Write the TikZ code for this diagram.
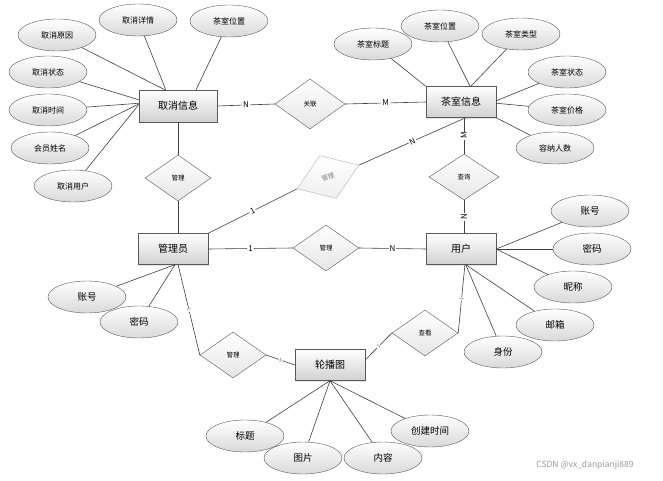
\documentclass[tikz,border=0pt]{standalone}
\usepackage{fontspec}
\newfontfamily\cjk{Noto Sans CJK SC}
\usetikzlibrary{shapes.geometric,shadows}
\tikzset{
	entity/.style={draw=black!65,rectangle,top color=white,bottom color=black!18,minimum width=70pt,minimum height=31pt,inner sep=0pt,font=\cjk\fontsize{10}{12}\selectfont,drop shadow={opacity=0.2,shadow xshift=1.2pt,shadow yshift=-1.2pt}},
	attr/.style={draw=black!65,ellipse,top color=white,bottom color=black!15,minimum width=78pt,minimum height=32pt,inner sep=0pt,font=\cjk\fontsize{8}{10}\selectfont},
	bigattr/.style={attr,font=\cjk\fontsize{9.5}{11}\selectfont},
	rel/.style={draw=black!65,diamond,top color=white,bottom color=black!10,minimum width=66pt,minimum height=46pt,inner sep=0pt,font=\cjk\fontsize{6.5}{8}\selectfont},
	conn/.style={draw=black!75,line width=0.6pt},
	card/.style={fill=white,inner sep=1pt,font=\cjk\fontsize{8}{9}\selectfont},
	tinycard/.style={fill=white,inner sep=0.5pt,text=black!60,font=\cjk\fontsize{5}{6}\selectfont}
}
\begin{document}
\begin{tikzpicture}[x=1pt,y=-1pt]
	\useasboundingbox[fill=white] (0,0) rectangle (663,481);
	%Entities
	\node[entity,minimum width=78pt,minimum height=32pt] (cancel) at (178,106) {取消信息};
	\node[entity] (room) at (461,102) {茶室信息};
	\node[entity] (admin) at (173,249) {管理员};
	\node[entity] (user) at (461,249) {用户};
	\node[entity] (banner) at (330,365) {轮播图};
	%Relations
	\node[rel,minimum width=70pt,minimum height=50pt] (relJoin) at (310,104) {关联};
	\node[rel] (relCancel) at (178,178) {管理};
	\node[rel] (relUser) at (326,248) {管理};
	\node[rel,minimum width=70pt] (relQuery) at (464,177) {查询};
	\node[rel,rotate=21,draw=black!30,top color=white,bottom color=black!6,text=black!50] (relRoom) at (328,177) {管理};
	\node[rel] (relBanner) at (233,355) {管理};
	\node[rel] (relView) at (425,333) {查看};
	%Links
	\draw[conn] (cancel.east) -- node[card]{N} (relJoin.west);
	\draw[conn] (relJoin.east) -- node[card]{M} (room.west);
	\draw[conn] (cancel.south) -- (relCancel.north);
	\draw[conn] (relCancel.south) -- (relCancel.south |- admin.north);
	\draw[conn] (admin.east) -- node[card]{1} (relUser.west);
	\draw[conn] (relUser.east) -- node[card]{N} (user.west);
	\draw[conn] (relQuery.north |- room.south) -- node[card,rotate=90]{M} (relQuery.north);
	\draw[conn] (relQuery.south) -- node[card,rotate=90]{N} (relQuery.south |- user.north);
	\draw[conn] (admin.north east) -- node[card,sloped]{1} (relRoom.west);
	\draw[conn] (relRoom.east) -- node[card,sloped]{N} (room.-73);
	\draw[conn] (admin.-72) -- node[tinycard,sloped]{1} (relBanner.west);
	\draw[conn] (relBanner.east) -- node[tinycard,sloped]{1} (banner.west);
	\draw[conn] (banner.8) -- node[tinycard,sloped]{1} (relView.west);
	\draw[conn] (relView.east) -- node[tinycard,sloped]{1} (user.-76);
	%Attributes of cancel
	\foreach \nm/\x/\y/\txt/\anc in {cReason/57/35/取消原因/129,cDetail/138/20/取消详情/127,cPlace/229/21/茶室位置/42,cState/48/72/取消状态/171,cTime/48/110/取消时间/176,cName/50/148/会员姓名/177,cUser/73/186/取消用户/178}
		{
			\node[attr] (\nm) at (\x,\y) {\txt};
			\draw[conn] (\nm) -- (cancel.\anc);
		}
	%Attributes of room
	\foreach \nm/\x/\y/\txt/\anc in {rTitle/373/44/茶室标题/north west,rPlace/440/26/茶室位置/60,rType/521/34/茶室类型/58,rState/567/72/茶室状态/2,rPrice/567/110/茶室价格/-2,rSeats/555/148/容纳人数/south east}
		{
			\node[attr] (\nm) at (\x,\y) {\txt};
			\draw[conn] (\nm) -- (room.\anc);
		}
	%Attributes of user
	\foreach \nm/\x/\y/\txt/\anc in {uAcc/590/211/账号/east,uPwd/592/249/密码/east,uNick/573/287/昵称/east,uMail/555/325/邮箱/-73,uRole/503/352/身份/-73}
		{
			\node[bigattr] (\nm) at (\x,\y) {\txt};
			\draw[conn] (\nm) -- (user.\anc);
		}
	%Attributes of admin
	\foreach \nm/\x/\y/\txt in {aAcc/87/297/账号,aPwd/139/322/密码}
		{
			\node[bigattr] (\nm) at (\x,\y) {\txt};
			\draw[conn] (\nm) -- (admin.-83);
		}
	%Attributes of banner
	\foreach \nm/\x/\y/\txt in {bTitle/245/436/标题,bPic/303/458/图片,bText/383/458/内容,bTime/430/431/创建时间}
		{
			\node[bigattr] (\nm) at (\x,\y) {\txt};
			\draw[conn] (\nm) -- (banner.south);
		}
	%Watermark
	\node[text=black!40,font=\cjk\fontsize{8.5}{10}\selectfont] (mark) at (585,465) {CSDN @vx\_danpianji889};
\end{tikzpicture}
\end{document}
